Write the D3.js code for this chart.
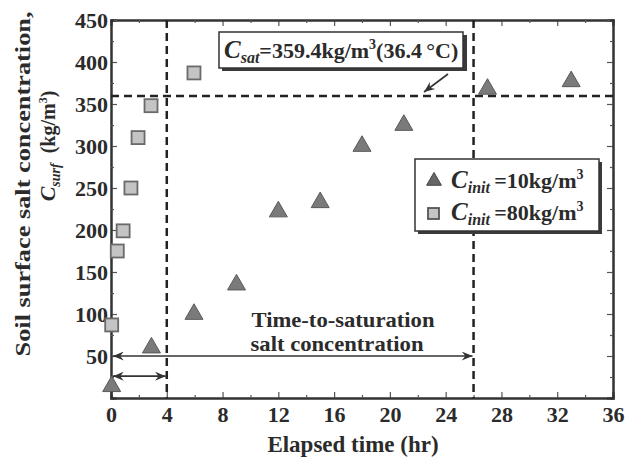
<!DOCTYPE html>
<html><head><meta charset="utf-8">
<script src="https://cdn.jsdelivr.net/npm/d3@7"></script>
</head>
<body style="margin:0;background:#fff"><svg id="c" width="628" height="461" font-family="Liberation Serif" font-weight="bold"></svg>
<script>
// Data
const xTicks = [0,4,8,12,16,20,24,28,32,36];
const yTicks = [50,100,150,200,250,300,350,400,450];
const tri10 = [[0.05,15],[2.9,61],[5.95,101],[9,136],[12,223],[15,234],[18,301],[21,326],[27,369],[33,378]];
const sq80 = [[0.05,87],[0.45,175],[0.87,199],[1.43,250],[1.94,310],[2.87,348],[5.95,387]];
const cSat = 359.4;
const tSat = [4,26];
const FF = "Liberation Serif";
const INK = "#2b2b2b";

const svg = d3.select("#c");
const x = d3.scaleLinear([0,36],[111,613]);
const y = d3.scaleLinear([0,450],[398,20]);

function T(sel){ return sel.attr("font-family",FF).attr("font-weight","bold").attr("fill",INK); }

// Axes
const minorX = d3.range(2,36,4), minorY = d3.range(25,450,50);
svg.append("g").attr("transform",`translate(0,${y(0)})`)
  .call(d3.axisBottom(x).tickValues(xTicks).tickSize(-6).tickPadding(8).tickFormat(d3.format("d")));
svg.append("g").attr("transform",`translate(0,${y(0)})`)
  .call(d3.axisBottom(x).tickValues(minorX).tickSize(-3).tickFormat(""));
svg.append("g").attr("transform",`translate(0,${y(450)})`)
  .call(d3.axisTop(x).tickValues(xTicks).tickSize(-6).tickFormat(""));
svg.append("g").attr("transform",`translate(0,${y(450)})`)
  .call(d3.axisTop(x).tickValues(minorX).tickSize(-3).tickFormat(""));
svg.append("g").attr("transform",`translate(${x(0)},0)`)
  .call(d3.axisLeft(y).tickValues(yTicks).tickSize(-6).tickPadding(3));
svg.append("g").attr("transform",`translate(${x(0)},0)`)
  .call(d3.axisLeft(y).tickValues(minorY).tickSize(-3).tickFormat(""));
svg.append("g").attr("transform",`translate(${x(36)},0)`)
  .call(d3.axisRight(y).tickValues(yTicks).tickSize(-6).tickFormat(""));
svg.append("g").attr("transform",`translate(${x(36)},0)`)
  .call(d3.axisRight(y).tickValues(minorY).tickSize(-3).tickFormat(""));
svg.selectAll(".domain").attr("stroke","#333").attr("stroke-width",2);
svg.selectAll(".tick line").attr("stroke","#555").attr("stroke-width",1.2);
T(svg.selectAll(".tick text")).attr("font-size",22);
svg.selectAll("g").attr("font-family",FF);

// Axis titles
T(svg.append("text")).attr("x",353).attr("y",452).attr("text-anchor","middle").attr("font-size",23).text("Elapsed time (hr)");
T(svg.append("text")).attr("transform","translate(30,184) rotate(-90)").attr("text-anchor","middle").attr("font-size",22)
  .attr("textLength",345).attr("lengthAdjust","spacingAndGlyphs").text("Soil surface salt concentration,");
const t2 = T(svg.append("text")).attr("transform","translate(55,146) rotate(-90)").attr("text-anchor","middle").attr("font-size",20);
t2.append("tspan").attr("font-style","italic").attr("font-size",22).text("C");
t2.append("tspan").attr("font-style","italic").attr("font-size",14).attr("dy",5).text("surf");
t2.append("tspan").attr("dy",-5).text("\u00a0\u00a0(kg/m");
t2.append("tspan").attr("font-size",12).attr("dy",-8).text("3");
t2.append("tspan").attr("dy",8).text(")");

// Dashed reference lines
svg.append("line").attr("x1",x(0)).attr("x2",x(36)).attr("y1",y(cSat)).attr("y2",y(cSat))
  .attr("stroke","#222").attr("stroke-width",2.5).attr("stroke-dasharray","8,5");
tSat.forEach(t=>{
  svg.append("line").attr("x1",x(t)).attr("x2",x(t)).attr("y1",y(450)).attr("y2",y(0))
    .attr("stroke","#222").attr("stroke-width",2.5).attr("stroke-dasharray","8,5");
});

// Arrow markers
const defs = svg.append("defs");
defs.append("marker").attr("id","ah").attr("viewBox","0 0 12 10").attr("refX",12).attr("refY",5)
  .attr("markerWidth",12).attr("markerHeight",9).attr("markerUnits","userSpaceOnUse").attr("orient","auto-start-reverse")
  .append("path").attr("d","M0,0 L12,5 L0,10 L4,5 Z").attr("fill","#333");
const arr = (x1,y1,x2,y2,both)=>{
  const l = svg.append("line").attr("x1",x1).attr("y1",y1).attr("x2",x2).attr("y2",y2)
    .attr("stroke","#333").attr("stroke-width",1.6).attr("marker-end","url(#ah)");
  if(both) l.attr("marker-start","url(#ah)");
};
arr(x(0)+2,y(50),x(tSat[1])-1,y(50),true);
arr(x(0)+2,y(26),x(tSat[0])-1,y(26),true);

T(svg.append("text")).attr("x",343).attr("y",327).attr("text-anchor","middle").attr("font-size",21)
  .attr("textLength",183).attr("lengthAdjust","spacingAndGlyphs").text("Time-to-saturation");
T(svg.append("text")).attr("x",337).attr("y",351).attr("text-anchor","middle").attr("font-size",21)
  .attr("textLength",173).attr("lengthAdjust","spacingAndGlyphs").text("salt concentration");

// Data markers
const triPath = d3.symbol(d3.symbolTriangle, 140)();
svg.append("g").selectAll("path").data(tri10).join("path")
  .attr("d",triPath).attr("transform",d=>`translate(${x(d[0])},${y(d[1])+1})`)
  .attr("fill","#7a7a7a").attr("stroke","#5a5a5a").attr("stroke-width",1);
svg.append("g").selectAll("rect").data(sq80).join("rect")
  .attr("x",d=>x(d[0])-6.5).attr("y",d=>y(d[1])-6.5).attr("width",13).attr("height",13)
  .attr("fill","#c4c4c4").attr("stroke","#6a6a6a").attr("stroke-width",1.8);

// Annotation box
svg.append("rect").attr("x",222).attr("y",35).attr("width",245).attr("height",36).attr("fill","#3a3a3a");
svg.append("rect").attr("x",219).attr("y",32).attr("width",244).attr("height",36).attr("fill","#fff").attr("stroke","#333").attr("stroke-width",1.5);
const at = T(svg.append("text")).attr("x",224).attr("y",58).attr("font-size",22);
at.append("tspan").attr("font-style","italic").attr("font-size",25).text("C");
at.append("tspan").attr("font-style","italic").attr("font-size",16).attr("dy",5).text("sat");
at.append("tspan").attr("dy",-5).text("=359.4kg/m");
at.append("tspan").attr("font-size",14).attr("dy",-9).text("3");
at.append("tspan").attr("dy",9).text("(36.4\u2009\u00b0C)");
arr(448,74,424,92,false);

// Legend
svg.append("rect").attr("x",418).attr("y",162).attr("width",184).attr("height",72).attr("fill","#3a3a3a");
svg.append("rect").attr("x",415).attr("y",159).attr("width",184).attr("height",72).attr("fill","#fff").attr("stroke","#333").attr("stroke-width",1.5);
const leg = [{sym:"tri",val:"10"},{sym:"sq",val:"80"}];
leg.forEach((l,i)=>{
  const cy = 181 + i*32;
  if(l.sym==="tri") svg.append("path").attr("d",d3.symbol(d3.symbolTriangle,95)()).attr("transform",`translate(434,${cy})`).attr("fill","#666").attr("stroke","#444");
  else svg.append("rect").attr("x",428).attr("y",cy-5).attr("width",11).attr("height",11).attr("fill","#c4c4c4").attr("stroke","#555").attr("stroke-width",1.8);
  const t = T(svg.append("text")).attr("x",451).attr("y",cy+7).attr("font-size",22);
  t.append("tspan").attr("font-style","italic").attr("font-size",25).text("C");
  t.append("tspan").attr("font-style","italic").attr("font-size",16).attr("dy",5).text("init");
  t.append("tspan").attr("dy",-5).text("\u2009=" + l.val + "kg/m");
  t.append("tspan").attr("font-size",14).attr("dy",-9).text("3");
});
</script></body></html>
